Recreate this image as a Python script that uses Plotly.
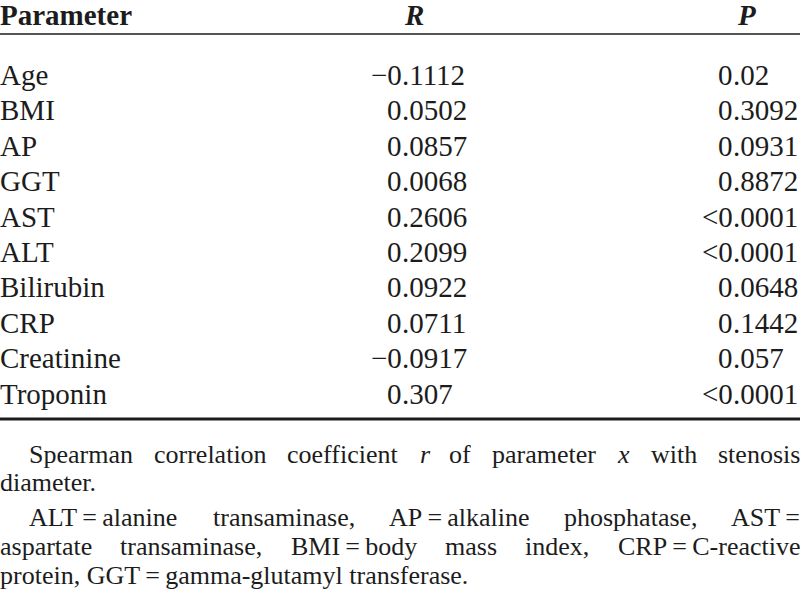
import plotly.graph_objects as go

# ---------------- data ----------------
header_labels = ["Parameter", "R", "P"]
parameters = ["Age", "BMI", "AP", "GGT", "AST", "ALT", "Bilirubin", "CRP",
              "Creatinine", "Troponin"]
r_values = [-0.1112, 0.0502, 0.0857, 0.0068, 0.2606, 0.2099, 0.0922, 0.0711,
            -0.0917, 0.307]
p_values = ["0.02", "0.3092", "0.0931", "0.8872", "<0.0001", "<0.0001",
            "0.0648", "0.1442", "0.057", "<0.0001"]

# footnote lines: (tokens, justified?, start x)
THIN = "\u2009"
footnote_lines = [
    (["Spearman", "correlation", "coefficient", "<i>r</i>", "of", "parameter",
      "<i>x</i>", "with", "stenosis"], True, 29),
    (["diameter."], False, 0),
    (["ALT" + THIN + "=" + THIN + "alanine", "transaminase,",
      "AP" + THIN + "=" + THIN + "alkaline", "phosphatase,",
      "AST" + THIN + "="], True, 29),
    (["aspartate", "transaminase,", "BMI" + THIN + "=" + THIN + "body", "mass",
      "index,", "CRP" + THIN + "=" + THIN + "C-reactive"], True, 0),
    (["protein,", "GGT" + THIN + "=" + THIN + "gamma-glutamyl",
      "transferase."], False, 0),
]

# ---------------- style / layout ----------------
W, H = 800, 594
FONT = "Liberation Serif, Times New Roman, serif"
INK = "#1c1c1c"
BODY = 29
NOTE = 26

# Times metrics (1/1000 em) for justified footnotes
TW = dict(zip("abcdefghijklmnopqrstuvwxyz",
              [444, 500, 444, 500, 444, 333, 500, 500, 278, 278, 500, 278, 778,
               500, 500, 500, 500, 333, 389, 278, 500, 500, 722, 500, 500, 444]))
TW.update(dict(zip("ABCDEFGHIJKLMNOPQRSTUVWXYZ",
                   [722, 667, 667, 722, 611, 556, 722, 722, 333, 389, 722, 611,
                    889, 722, 722, 556, 722, 667, 556, 611, 722, 722, 944, 722,
                    722, 611])))
TW.update({" ": 250, ",": 250, ".": 250, "-": 333, "=": 564, THIN: 200})


def tw(s, size):
    s = s.replace("<i>", "").replace("</i>", "")
    return sum(TW.get(c, 500) for c in s) * size / 1000.0


fig = go.Figure()
fig.add_trace(go.Scatter(x=[], y=[], mode="markers", showlegend=False,
                         hoverinfo="skip"))


def put(s, x, baseline, size, xanchor="left"):
    fig.add_annotation(x=x, y=baseline - 0.32 * size, xref="x", yref="y",
                       text=s, showarrow=False, xanchor=xanchor,
                       yanchor="middle", borderpad=0, borderwidth=0,
                       font=dict(family=FONT, size=size, color=INK))


# header
HEAD_BASE = 24.5
put("<b>" + header_labels[0] + "</b>", 0, HEAD_BASE, BODY)
put("<b><i>" + header_labels[1] + "</i></b>", 404, HEAD_BASE, BODY)
put("<b><i>" + header_labels[2] + "</i></b>", 737, HEAD_BASE, BODY)

fig.add_shape(type="line", xref="x", yref="y", x0=0, x1=W, y0=34, y1=34,
              line=dict(color=INK, width=1.5))

# body rows
ROW0 = 84
ROW_STEP = 35.45
R_DEC = 402
P_DEC = 732.5
for i, (name, r, p) in enumerate(zip(parameters, r_values, p_values)):
    base = ROW0 + i * ROW_STEP
    put(name, 0, base, BODY)
    rs = ("\u2212" if r < 0 else "") + repr(abs(r))
    ip, fp = rs.split(".")
    put(ip, R_DEC, base, BODY, "right")
    put("." + fp, R_DEC, base, BODY, "left")
    ip, fp = p.replace("<", "&lt;").split(".")
    put(ip, P_DEC, base, BODY, "right")
    put("." + fp, P_DEC, base, BODY, "left")

fig.add_shape(type="line", xref="x", yref="y", x0=0, x1=W, y0=419, y1=419,
              line=dict(color=INK, width=3))

# footnotes
NOTE_BASES = [463, 491, 526, 555, 584]
for (tokens, justified, x0), base in zip(footnote_lines, NOTE_BASES):
    if justified and len(tokens) > 1:
        widths = [tw(t, NOTE) for t in tokens]
        gap = (W - x0 - sum(widths)) / (len(tokens) - 1)
        x = x0
        for j, (t, w) in enumerate(zip(tokens, widths)):
            if j == len(tokens) - 1:
                put(t, W, base, NOTE, "right")
            else:
                put(t, x, base, NOTE, "left")
            x += w + gap
    else:
        put(" ".join(tokens), x0, base, NOTE, "left")

fig.update_layout(
    width=W, height=H,
    margin=dict(l=0, r=0, t=0, b=0),
    paper_bgcolor="white", plot_bgcolor="white",
    xaxis=dict(range=[0, W], visible=False, fixedrange=True),
    yaxis=dict(range=[H, 0], visible=False, fixedrange=True),
    showlegend=False,
)

fig.write_html(
    "out.html",
    config={"displayModeBar": False},
    post_script="document.body.style.margin='0';document.body.style.overflow='hidden';",
)
